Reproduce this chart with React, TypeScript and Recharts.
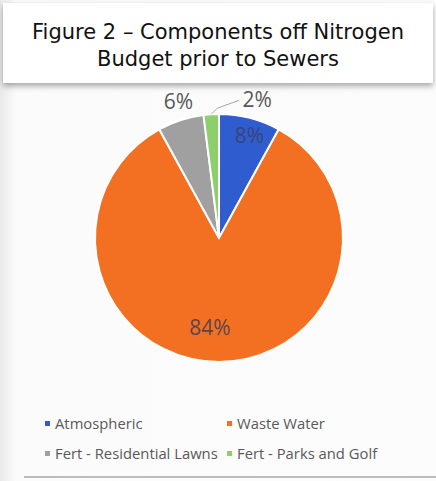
import { PieChart, Pie, Cell } from 'recharts';

const categories = ['Atmospheric', 'Waste Water', 'Fert - Residential Lawns', 'Fert - Parks and Golf'];
const shares = [8, 84, 6, 2];
const percentLabels = ['8%', '84%', '6%', '2%'];
const titleLines = ['Figure 2 – Components off Nitrogen', 'Budget prior to Sewers'];

const colors = ['#2F5CCF', '#F36F21', '#A0A0A0', '#8DCF6B'];

const data = categories.map((name, i) => ({ name, value: shares[i], label: percentLabels[i] }));

const RAD = Math.PI / 180;

// label placement roughly following Excel's "best fit"
function renderLabel(props: any) {
  const { cx, cy, midAngle, outerRadius, index } = props;
  const cos = Math.cos(-midAngle * RAD);
  const sin = Math.sin(-midAngle * RAD);
  const text = percentLabels[index];
  const base = { fontFamily: 'Open Sans, sans-serif', fontSize: 21 } as const;
  if (index === 0 || index === 1) {
    const r = index === 0 ? outerRadius * 0.86 : outerRadius * 0.72;
    const dx = index === 1 ? -9 : 4;
    return (
      <text x={cx + r * cos + dx} y={cy + r * sin} fill="#3d3d55" fillOpacity={index === 0 ? 0.75 : 0.85} textAnchor="middle" dominantBaseline="central" {...base}>
        {text}
      </text>
    );
  }
  if (index === 2) {
    const r = outerRadius + 20;
    return (
      <text x={cx + r * cos + 4} y={cy + r * sin} fill="#595959" textAnchor="middle" dominantBaseline="central" {...base}>
        {text}
      </text>
    );
  }
  const sx = cx + outerRadius * cos;
  const sy = cy + outerRadius * sin;
  const mx = sx + 6;
  const my = sy - 6;
  const ex = sx + 28;
  const ey = sy - 14;
  return (
    <g>
      <polyline points={`${sx},${sy} ${mx},${my} ${ex},${ey}`} fill="none" stroke="#a6a6a6" strokeWidth={1} />
      <text x={ex + 18} y={ey - 1} fill="#595959" textAnchor="middle" dominantBaseline="central" {...base}>
        {text}
      </text>
    </g>
  );
}

function LegendBlock() {
  return (
    <div
      style={{
        position: 'absolute',
        left: 45,
        top: 413,
        display: 'grid',
        gridTemplateColumns: '182px 200px',
        rowGap: 10,
        fontFamily: 'Open Sans, sans-serif',
        fontSize: 14.8,
        color: '#595959',
      }}
    >
      {categories.map((c, i) => (
        <div key={c} style={{ display: 'flex', alignItems: 'center', height: 20, whiteSpace: 'nowrap' }}>
          <span style={{ width: 5, height: 5, background: colors[i], display: 'inline-block', marginRight: 5 }} />
          {c}
        </div>
      ))}
    </div>
  );
}

export default function App() {
  return (
    <div
      style={{
        position: 'absolute',
        left: 0,
        top: 0,
        width: 436,
        height: 481,
        overflow: 'hidden',
        background: 'linear-gradient(to right, #e9e9e9 0px, #fbfbfb 16px, #fcfcfc 100%)',
      }}
    >
      <div
        style={{
          position: 'absolute',
          left: 3,
          top: 3,
          width: 430,
          height: 80,
          background: '#fff',
          boxShadow: '0 3px 6px rgba(0,0,0,0.35)',
          fontFamily: 'DejaVu Sans, sans-serif',
          fontSize: 21,
          lineHeight: '27px',
          color: '#111',
          textAlign: 'center',
          paddingTop: 16,
          boxSizing: 'border-box',
          zIndex: 2,
        }}
      >
        {titleLines.map((t) => (
          <div key={t} style={{ whiteSpace: 'nowrap' }}>{t}</div>
        ))}
      </div>
      <PieChart width={436} height={481} margin={{ top: 0, right: 0, bottom: 0, left: 0 }} style={{ position: 'absolute', left: 0, top: 0 }}>
        <Pie
          data={data}
          dataKey="value"
          nameKey="name"
          cx={219}
          cy={238}
          outerRadius={124}
          startAngle={90}
          endAngle={-270}
          stroke="#ffffff"
          strokeWidth={2}
          label={renderLabel}
          labelLine={false}
          isAnimationActive={false}
        >
          {data.map((d, i) => (
            <Cell key={d.name} fill={colors[i]} />
          ))}
        </Pie>
      </PieChart>
      <LegendBlock />
      <div style={{ position: 'absolute', left: 24, top: 476, width: 412, height: 2, background: '#bdbdbd' }} />
    </div>
  );
}
